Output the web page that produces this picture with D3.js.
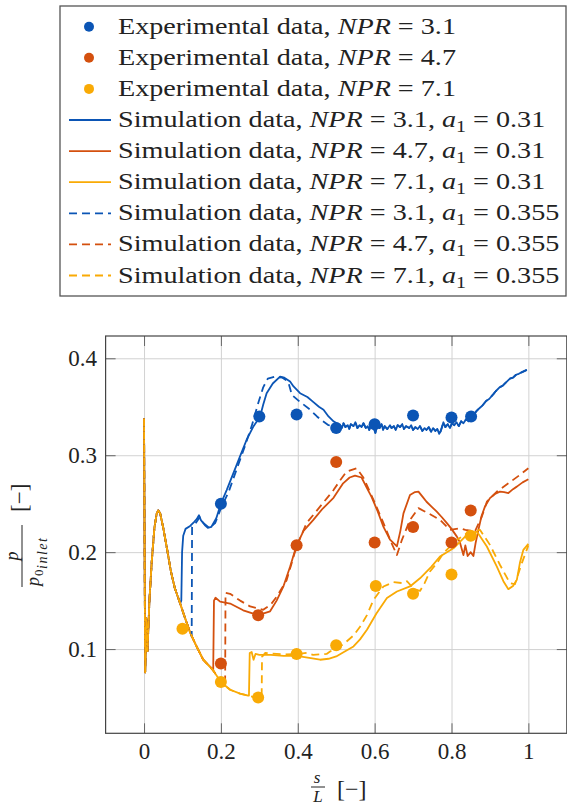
<!DOCTYPE html>
<html>
<head>
<meta charset="utf-8">
<script src="https://cdn.jsdelivr.net/npm/d3@7"></script>
<style>
body { margin: 0; background: #fff; }
</style>
</head>
<body>
<script>
// DATA: s/L against p/p0_inlet

// experimental points
var expNPR31 = [[0.2,0.25],[0.3,0.34],[0.397,0.342],[0.5,0.328],[0.6,0.332],[0.7,0.341],[0.8,0.339],[0.851,0.34]];
var expNPR47 = [[0.2,0.085],[0.297,0.135],[0.397,0.207],[0.5,0.293],[0.6,0.21],[0.7,0.226],[0.8,0.21],[0.85,0.243]];
var expNPR71 = [[0.1,0.121],[0.2,0.066],[0.297,0.05],[0.397,0.095],[0.5,0.104],[0.603,0.165],[0.7,0.157],[0.8,0.177],[0.85,0.217]];

// all six simulations share this start until they jump
var simStart = [[0,0.338],[0.0015,0.2],[0.003,0.076],[0.006,0.132],[0.009,0.098],[0.014,0.15],[0.02,0.19],[0.027,0.225],
  [0.033,0.24],[0.037,0.243],[0.042,0.24],[0.05,0.225],[0.06,0.203],[0.07,0.18],[0.08,0.163],[0.094,0.147],[0.105,0.134],
  [0.12,0.117],[0.135,0.104],[0.154,0.089],[0.18,0.078],[0.2,0.066],[0.224,0.058],[0.25,0.054],[0.271,0.052],[0.29,0.05]];

// NPR 3.1 plateau (both a1 values sit on it)
var blueFlat = [[0.51,0.331],[0.515,0.328],[0.519,0.333],[0.524,0.329],[0.53,0.331],[0.534,0.327],[0.538,0.332],[0.545,0.33],
  [0.55,0.334],[0.555,0.328],[0.561,0.331],[0.566,0.329],[0.571,0.333],[0.577,0.328],[0.582,0.33],[0.586,0.326],[0.59,0.331],
  [0.597,0.329],[0.602,0.323],[0.606,0.33],[0.613,0.328],[0.618,0.332],[0.622,0.326],[0.626,0.33],[0.633,0.327],[0.64,0.331],
  [0.644,0.328],[0.65,0.33],[0.655,0.326],[0.66,0.331],[0.666,0.329],[0.672,0.332],[0.676,0.327],[0.682,0.33],[0.69,0.328],
  [0.695,0.331],[0.7,0.326],[0.706,0.329],[0.712,0.327],[0.718,0.33],[0.724,0.325],[0.73,0.328],[0.735,0.326],[0.741,0.329],
  [0.747,0.324],[0.752,0.328],[0.758,0.325],[0.763,0.327],[0.768,0.322],[0.772,0.325],[0.776,0.33],[0.779,0.334],[0.784,0.329],
  [0.79,0.332],[0.796,0.328],[0.801,0.333],[0.807,0.331],[0.813,0.334],[0.819,0.33],[0.825,0.335],[0.831,0.333],[0.838,0.337],
  [0.845,0.335],[0.852,0.341],[0.86,0.343],[0.866,0.346],[0.874,0.349],[0.88,0.351],[0.89,0.356],[0.898,0.358],[0.909,0.363],
  [0.915,0.366],[0.925,0.37],[0.934,0.372],[0.944,0.376],[0.952,0.379],[0.96,0.38],[0.968,0.383],[0.975,0.384],[0.985,0.386],
  [0.996,0.388]];

var simNPR31a = [[0.097,0.15],[0.099,0.2],[0.102,0.217],[0.108,0.224],[0.12,0.227],[0.13,0.231],[0.137,0.234],[0.143,0.238],
  [0.148,0.233],[0.158,0.228],[0.166,0.225],[0.175,0.226],[0.188,0.235],[0.2,0.25],[0.215,0.264],[0.232,0.281],[0.25,0.299],
  [0.267,0.316],[0.285,0.33],[0.302,0.34],[0.31,0.352],[0.319,0.364],[0.335,0.374],[0.354,0.381],[0.365,0.38],[0.38,0.376],
  [0.389,0.371],[0.406,0.364],[0.425,0.36],[0.44,0.355],[0.455,0.35],[0.467,0.347],[0.48,0.34],[0.493,0.335]];
var simNPR31b = [[0.124,0.113],[0.125,0.226],[0.133,0.229],[0.145,0.236],[0.155,0.23],[0.17,0.225],[0.185,0.23],[0.2,0.245],
  [0.22,0.262],[0.245,0.29],[0.263,0.31],[0.28,0.33],[0.298,0.355],[0.31,0.37],[0.322,0.379],[0.34,0.381],[0.36,0.38],
  [0.375,0.376],[0.385,0.362],[0.406,0.355],[0.432,0.347],[0.45,0.34],[0.462,0.336],[0.48,0.331],[0.495,0.33]];

var simNPR47a = [[0.176,0.08],[0.18,0.078],[0.182,0.15],[0.186,0.153],[0.198,0.149],[0.224,0.147],[0.258,0.14],[0.297,0.135],
  [0.328,0.139],[0.345,0.15],[0.363,0.165],[0.38,0.185],[0.397,0.207],[0.415,0.222],[0.44,0.233],[0.465,0.245],[0.493,0.256],
  [0.518,0.271],[0.535,0.277],[0.549,0.279],[0.566,0.277],[0.58,0.266],[0.592,0.257],[0.608,0.242],[0.623,0.226],[0.64,0.213],
  [0.65,0.209],[0.658,0.206],[0.667,0.222],[0.675,0.24],[0.692,0.259],[0.705,0.262],[0.714,0.2625],[0.725,0.257],[0.735,0.252],
  [0.748,0.247],[0.761,0.242],[0.775,0.236],[0.788,0.23],[0.8,0.224],[0.814,0.216],[0.822,0.21],[0.831,0.197],[0.836,0.207],
  [0.842,0.196],[0.85,0.2],[0.857,0.196],[0.863,0.21],[0.87,0.223],[0.878,0.237],[0.887,0.247],[0.9,0.2557],[0.913,0.26],
  [0.926,0.2625],[0.937,0.262],[0.948,0.261],[0.96,0.265],[0.97,0.2676],[0.985,0.272],[1.0,0.2752]];
var simNPR47b = [[0.211,0.062],[0.212,0.158],[0.224,0.157],[0.25,0.15],[0.276,0.144],[0.31,0.1405],[0.33,0.146],[0.345,0.154],
  [0.371,0.171],[0.397,0.206],[0.423,0.23],[0.458,0.247],[0.493,0.264],[0.51,0.274],[0.527,0.283],[0.553,0.2866],[0.571,0.2767],
  [0.597,0.254],[0.623,0.23],[0.644,0.2093],[0.658,0.197],[0.671,0.2127],[0.692,0.2333],[0.714,0.2454],[0.74,0.24],[0.77,0.2333],
  [0.796,0.223],[0.822,0.2247],[0.836,0.223],[0.861,0.2213],[0.879,0.2367],[0.892,0.252],[0.918,0.2625],[0.948,0.271],
  [0.978,0.2797],[1.0,0.2866]];

var simNPR71a = [[0.273,0.052],[0.275,0.096],[0.28,0.097],[0.285,0.089],[0.29,0.095],[0.3,0.094],[0.33,0.094],[0.363,0.093],
  [0.397,0.093],[0.43,0.091],[0.458,0.089],[0.48,0.09],[0.5,0.0924],[0.52,0.097],[0.545,0.1027],[0.562,0.11],[0.58,0.12],
  [0.605,0.137],[0.632,0.1526],[0.658,0.1594],[0.692,0.1646],[0.718,0.173],[0.748,0.185],[0.77,0.1955],[0.805,0.204],
  [0.84,0.2178],[0.866,0.2212],[0.892,0.2058],[0.918,0.185],[0.935,0.17],[0.948,0.1618],[0.96,0.165],[0.97,0.1714],
  [0.978,0.189],[0.987,0.2024],[1.0,0.2085]];
var simNPR71b = [[0.306,0.049],[0.307,0.092],[0.315,0.096],[0.363,0.0945],[0.397,0.0948],[0.423,0.096],[0.44,0.094],[0.475,0.095],
  [0.484,0.0975],[0.505,0.101],[0.527,0.1078],[0.545,0.114],[0.562,0.123],[0.58,0.135],[0.597,0.1508],[0.623,0.1646],[0.649,0.169],
  [0.675,0.168],[0.684,0.17],[0.7,0.163],[0.709,0.161],[0.718,0.16],[0.73,0.168],[0.744,0.18],[0.762,0.1887],[0.779,0.199],
  [0.814,0.2127],[0.848,0.2213],[0.874,0.223],[0.9,0.2075],[0.926,0.187],[0.952,0.168],[0.965,0.167],[0.983,0.1887],[1.0,0.207]];

var nprValues = ["3.1", "4.7", "7.1"];
var a1Values = ["0.31", "0.355"];
var colors = ["#0b55b5", "#d4500e", "#f9aa05"];

var xTicks = [0, 0.2, 0.4, 0.6, 0.8, 1];
var xTickLabels = ["0", "0.2", "0.4", "0.6", "0.8", "1"];
var yTicks = [0.1, 0.2, 0.3, 0.4];
var yTickLabels = ["0.1", "0.2", "0.3", "0.4"];

// join the shared start with the part after the jump
function withStart(tail) {
  return simStart.filter(function(d){ return d[0] < tail[0][0]; }).concat(tail);
}
function withFlat(head) {
  return withStart(head).concat(blueFlat);
}

var expSets = [expNPR31, expNPR47, expNPR71];
var simSets = [
  [withFlat(simNPR31a), withStart(simNPR47a), withStart(simNPR71a)],
  [withFlat(simNPR31b), withStart(simNPR47b), withStart(simNPR71b)]
];

//SVG + SCALES
var w = 567, h = 808;
var x = d3.scaleLinear().domain([-0.1, 1.1]).range([105.6, 566.8]);
var y = d3.scaleLinear().domain([0.0131, 0.423]).range([733.3, 336]);
var x0 = x.range()[0], x1 = x.range()[1], y0 = y.range()[0], y1 = y.range()[1];
var serif = "'Liberation Serif', 'Times New Roman', serif";

const svg = d3.select("body").append("svg").attr("width", w).attr("height", h)
  .style("font-family", serif);

//GRID
svg.append("g").attr("class", "grid").attr("transform", "translate(0," + y0 + ")")
  .call(d3.axisBottom(x).tickValues(xTicks).tickSize(-(y0 - y1)).tickFormat(""));
svg.append("g").attr("class", "grid").attr("transform", "translate(" + x0 + ",0)")
  .call(d3.axisLeft(y).tickValues(yTicks).tickSize(-(x1 - x0)).tickFormat(""));
svg.selectAll(".grid .domain").remove();
svg.selectAll(".grid line").attr("stroke", "#d2d2d2").attr("stroke-width", 1);

//CURVES
svg.append("clipPath").attr("id", "plotclip").append("rect")
  .attr("x", x0).attr("y", y1).attr("width", x1 - x0).attr("height", y0 - y1);
var line = d3.line().x(function(d){ return x(d[0]); }).y(function(d){ return y(d[1]); });
var curves = svg.append("g").attr("clip-path", "url(#plotclip)");

simSets.forEach(function(set, k) {
  set.forEach(function(pts, i) {
    curves.append("path").datum(pts).attr("d", line).attr("fill", "none")
      .attr("stroke", colors[i]).attr("stroke-width", 1.8).attr("stroke-linejoin", "round")
      .attr("stroke-dasharray", k == 1 ? "8,5" : null);
  });
});

expSets.forEach(function(pts, i) {
  curves.selectAll(null).data(pts).enter().append("circle")
    .attr("cx", function(d){ return x(d[0]); }).attr("cy", function(d){ return y(d[1]); })
    .attr("r", 6).attr("fill", colors[i]);
});

//AXES (inward ticks on every side)
var tickCol = "#666";
var axB = svg.append("g").attr("transform", "translate(0," + y0 + ")")
  .call(d3.axisBottom(x).tickValues(xTicks).tickSize(-10).tickPadding(9.4).tickFormat(function(d, i){ return xTickLabels[i]; }));
var axL = svg.append("g").attr("transform", "translate(" + x0 + ",0)")
  .call(d3.axisLeft(y).tickValues(yTicks).tickSize(-10).tickPadding(8.6).tickFormat(function(d, i){ return yTickLabels[i]; }));
var axT = svg.append("g").attr("transform", "translate(0," + y1 + ")")
  .call(d3.axisTop(x).tickValues(xTicks).tickSize(-10).tickFormat(""));
var axR = svg.append("g").attr("transform", "translate(" + x1 + ",0)")
  .call(d3.axisRight(y).tickValues(yTicks).tickSize(-10).tickFormat(""));
[axB, axL, axT, axR].forEach(function(g) {
  g.select(".domain").remove();
  g.selectAll("line").attr("stroke", tickCol);
  g.selectAll("text").attr("font-family", serif).attr("font-size", 23).attr("fill", "#222");
});
svg.append("rect").attr("x", x0).attr("y", y1).attr("width", x1 - x0).attr("height", y0 - y1)
  .attr("fill", "none").attr("stroke", "#444").attr("stroke-width", 1.2);

//AXIS LABELS
var xl = svg.append("g").attr("fill", "#222");
xl.append("text").attr("x", 317).attr("y", 783).attr("text-anchor", "middle").attr("font-style", "italic").attr("font-size", 17).text("s");
xl.append("line").attr("x1", 311).attr("x2", 325).attr("y1", 787).attr("y2", 787).attr("stroke", "#222").attr("stroke-width", 1);
xl.append("text").attr("x", 318).attr("y", 802).attr("text-anchor", "middle").attr("font-style", "italic").attr("font-size", 17).text("L");
xl.append("text").attr("x", 337).attr("y", 797).attr("font-size", 24).text("[\u2212]");

var yl = svg.append("g").attr("fill", "#222").attr("transform", "translate(22,587) rotate(-90)");
yl.append("text").attr("x", 31).attr("y", -4.5).attr("text-anchor", "middle").attr("font-style", "italic").attr("font-size", 18).text("p");
yl.append("line").attr("x1", 0).attr("x2", 62).attr("y1", 0).attr("y2", 0).attr("stroke", "#222").attr("stroke-width", 1);
yl.append("text").attr("x", 1).attr("y", 17).attr("font-style", "italic").attr("font-size", 18).text("p");
yl.append("text").attr("x", 11).attr("y", 21).attr("font-size", 13).text("0");
yl.append("text").attr("x", 18).attr("y", 25).attr("font-style", "italic").attr("font-size", 14).attr("letter-spacing", 1.5).text("inlet");
yl.append("text").attr("x", 75).attr("y", 5).attr("font-size", 23).text("[\u2212]");

//LEGEND
var legend = svg.append("g");
legend.append("rect").attr("x", 60).attr("y", 6).attr("width", 506).attr("height", 290)
  .attr("fill", "#fff").attr("stroke", "#555").attr("stroke-width", 1.3);

var entries = [];
nprValues.forEach(function(n, i){ entries.push({kind: "Experimental", npr: n, a1: null, color: colors[i], dash: null}); });
a1Values.forEach(function(a, k){
  nprValues.forEach(function(n, i){ entries.push({kind: "Simulation", npr: n, a1: a, color: colors[i], dash: k == 1 ? "8,5" : null}); });
});

var stretch = null;
entries.forEach(function(e, i) {
  var cy = 26.7 + i * 31.1;
  if (e.a1 === null) {
    legend.append("circle").attr("cx", 89).attr("cy", cy).attr("r", 5).attr("fill", e.color);
  } else {
    legend.append("line").attr("x1", 69).attr("x2", 111).attr("y1", cy).attr("y2", cy)
      .attr("stroke", e.color).attr("stroke-width", 1.8).attr("stroke-dasharray", e.dash);
  }
  var t = legend.append("text").attr("x", 118).attr("y", cy + 7).attr("font-size", 24).attr("fill", "#222");
  t.append("tspan").text(e.kind + " data, ");
  t.append("tspan").attr("font-style", "italic").text("NPR");
  t.append("tspan").text(" = " + e.npr);
  if (e.a1 !== null) {
    t.append("tspan").text(", ");
    t.append("tspan").attr("font-style", "italic").text("a");
    t.append("tspan").attr("font-size", 17).attr("dy", 5).text("1");
    t.append("tspan").attr("dy", -5).text(" = " + e.a1);
  }
  // Computer Modern runs wider than Liberation Serif
  var nat = t.node().getComputedTextLength();
  if (stretch === null) stretch = 338 / nat;
  t.attr("textLength", nat * stretch).attr("lengthAdjust", "spacingAndGlyphs");
});
</script>
</body>
</html>
